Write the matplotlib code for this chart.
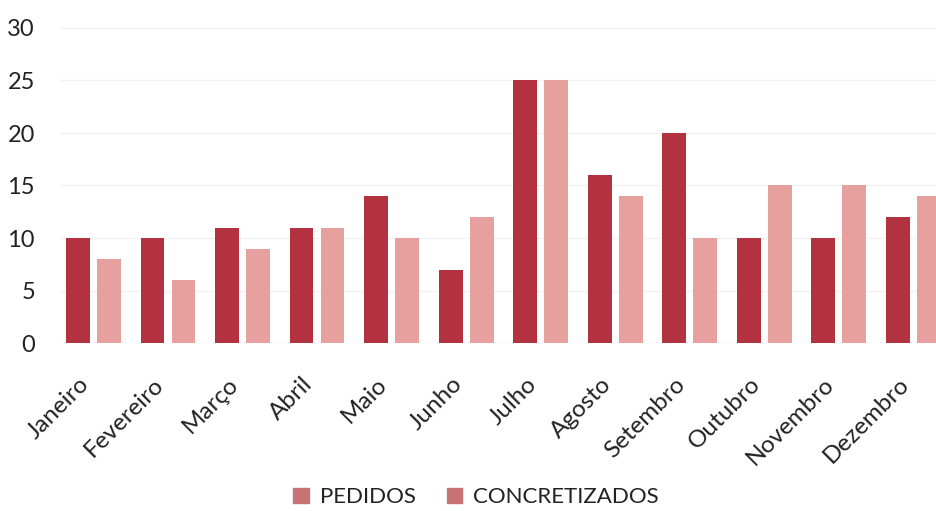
import matplotlib.pyplot as plt
from matplotlib.patches import Patch
from matplotlib.transforms import ScaledTranslation
import numpy as np

plt.rcParams['font.family'] = ['Lato', 'DejaVu Sans']

meses = ['Janeiro', 'Fevereiro', 'Março', 'Abril', 'Maio', 'Junho',
         'Julho', 'Agosto', 'Setembro', 'Outubro', 'Novembro', 'Dezembro']
pedidos = [10, 10, 11, 11, 14, 7, 25, 16, 20, 10, 10, 12]
concretizados = [8, 6, 9, 11, 10, 12, 25, 14, 10, 15, 15, 14]
y_ticks = [0, 5, 10, 15, 20, 25, 30]

cor_pedidos = '#b3323f'
cor_concretizados = '#e6a09e'
cor_legenda = '#c87477'

fig = plt.figure(figsize=(9.37, 5.11), dpi=100)
ax = fig.add_axes([60 / 937, 1 - 343 / 511, 1 - 60 / 937, (343 - 28) / 511])

x = np.arange(len(meses))
w = 0.32
off = 0.208
ax.bar(x - off, pedidos, w, color=cor_pedidos, zorder=2)
ax.bar(x + off, concretizados, w, color=cor_concretizados, zorder=2)

ax.set_xlim(-0.45, 11.32)
ax.set_ylim(0, 30)
ax.set_yticks(y_ticks)
ax.yaxis.grid(True, color='#f2f2f2', linewidth=1, zorder=0)
ax.axhline(0, color='#ebebeb', linewidth=1, zorder=1)
for s in ax.spines.values():
    s.set_visible(False)

ax.tick_params(axis='both', length=0, labelsize=17, colors='#222222')
ax.tick_params(axis='y', pad=18)
ax.set_xticks(x)
ax.set_xticklabels(meses, rotation=45, ha='right', rotation_mode='anchor', fontsize=17.5)
ax.tick_params(axis='x', pad=22)
shift = ScaledTranslation(-15 / 100, 0, fig.dpi_scale_trans)
for lbl in ax.get_xticklabels():
    lbl.set_transform(lbl.get_transform() + shift)

handles = [Patch(color=cor_legenda, label='PEDIDOS'),
           Patch(color=cor_legenda, label='CONCRETIZADOS')]
fig.legend(handles=handles, loc='center', bbox_to_anchor=(0.508, 0.027), ncol=2,
           frameon=False, fontsize=16, handlelength=0.7, handleheight=0.7,
           handletextpad=0.5, columnspacing=1.4, labelcolor='#222222')

fig.savefig('out.png', dpi=100)
